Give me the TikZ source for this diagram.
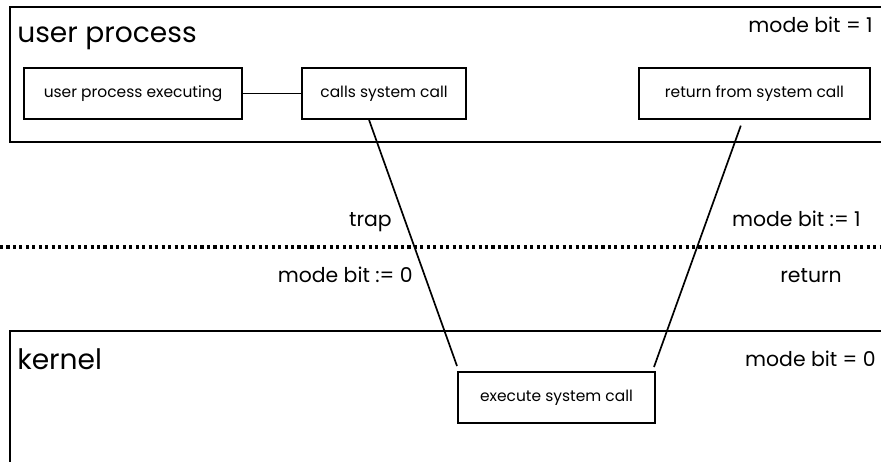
\documentclass[tikz,border=0pt]{standalone}
\usepackage{fontspec}
\setmainfont{Poppins}
\usepackage{tikz}
\usetikzlibrary{positioning,calc}
\usepackage{xcolor}
\definecolor{Ink}{HTML}{000000}

\begin{document}
\begin{tikzpicture}[x=0.25mm,y=-0.25mm,
    region/.style={draw=Ink,line width=1.6pt},
    stepbox/.style={draw=Ink,line width=1.4pt,minimum height=12.75mm,inner sep=0pt,
      font=\fontsize{11}{13}\selectfont},
    title/.style={Ink,inner sep=0pt,font=\fontsize{20}{24}\selectfont},
    note/.style={Ink,inner sep=0pt,font=\fontsize{14.5}{17}\selectfont},
    link/.style={draw=Ink,line width=1.2pt}]
  \clip (0,0) rectangle (881,462);

  % Zona de usuario, abierta por la derecha.
  \draw[region] (10,7) rectangle (895,142);
  \node[title,anchor=base west] (user) at (17,43) {user process};
  \node[note,anchor=base east] (ubit) at (873,33) {mode bit = 1};

  \node[stepbox,minimum width=54.5mm] (exec) at (133,93.5) {user process executing};
  \node[stepbox,minimum width=41mm] (calls) at (384,93.5) {calls system call};
  \node[stepbox,minimum width=57.75mm] (ret) at (754.5,93.5) {return from system call};
  \draw[link] (exec) -- (calls);

  % Frontera punteada entre los dos modos.
  \coordinate (bl) at (0,247);
  \coordinate (br) at (881,247);
  \draw[Ink,line width=2.4pt,dash pattern=on 2.2pt off 2.4pt] (bl) -- (br);

  % Zona del núcleo.
  \draw[region] (10,331) rectangle (895,480);
  \node[title,anchor=base west] (kern) at (17,370) {kernel};
  \node[note,anchor=base east] (kbit) at (876,367) {mode bit = 0};
  \node[stepbox,minimum width=49.25mm] (sys) at (556.5,397.5) {execute system call};

  % Bajada por trap y subida por return.
  \draw[link] ($(calls.south west)!.41!(calls.south east)$)
    -- ([yshift=1.25mm]sys.north west);
  \draw[link,shorten <=1.5mm]
    ($(ret.south west)!.45!(ret.south east)$)
    -- ([xshift=-.5mm,yshift=1mm]sys.north east);

  \node[note,anchor=base east] (trap) at (392,227) {trap};
  \node[note,anchor=base east] (set1) at (861,227) {mode bit := 1};
  \node[note,anchor=base east] (set0) at (413,283) {mode bit := 0};
  \node[note,anchor=base east] (back) at (842,283) {return};
\end{tikzpicture}
\end{document}
